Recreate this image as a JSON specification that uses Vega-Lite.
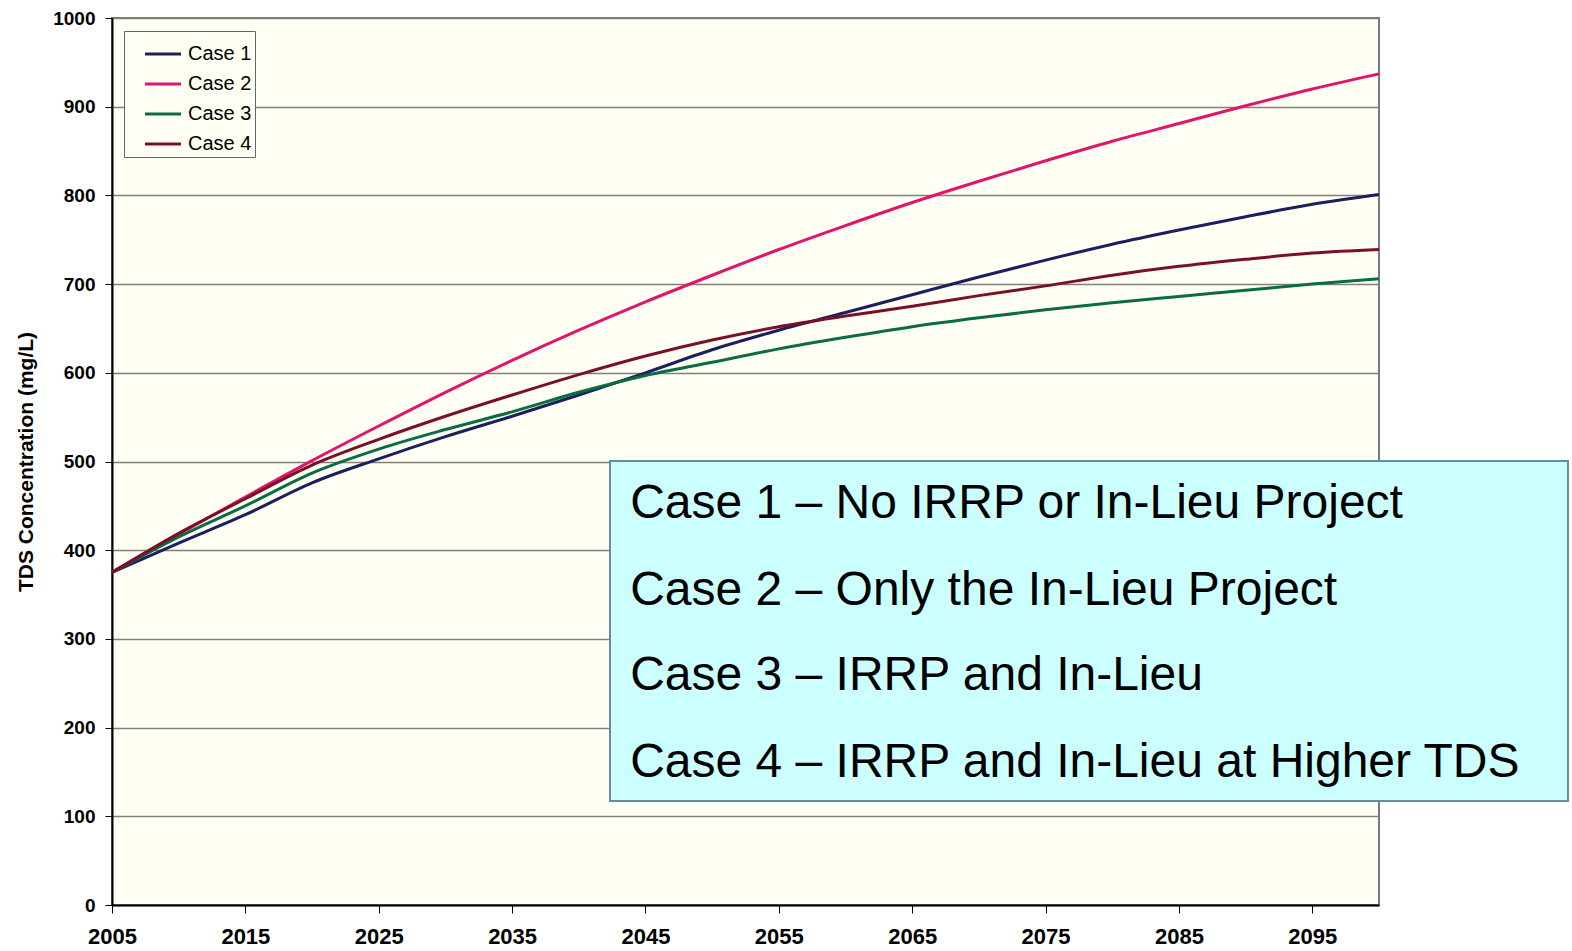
{
  "$schema": "https://vega.github.io/schema/vega-lite/v6.json",
  "width": 1267,
  "height": 887,
  "autosize": {"type": "none"},
  "padding": {"left": 112, "top": 18, "right": 193, "bottom": 46},
  "background": "white",
  "config": {
    "view": {"fill": "#fffff4", "stroke": "#7a7a7a", "strokeWidth": 2},
    "font": "Liberation Sans"
  },
  "datasets": {
    "tds": [
      {"year": 2005, "Case 1": 375, "Case 2": 375, "Case 3": 375, "Case 4": 375},
      {"year": 2010, "Case 1": 408, "Case 2": 418, "Case 3": 415, "Case 4": 419},
      {"year": 2015, "Case 1": 440, "Case 2": 460, "Case 3": 450, "Case 4": 458},
      {"year": 2020, "Case 1": 476, "Case 2": 501, "Case 3": 487, "Case 4": 496},
      {"year": 2025, "Case 1": 503, "Case 2": 540, "Case 3": 514, "Case 4": 525},
      {"year": 2030, "Case 1": 528, "Case 2": 578, "Case 3": 536, "Case 4": 551},
      {"year": 2035, "Case 1": 551, "Case 2": 614, "Case 3": 556, "Case 4": 575},
      {"year": 2040, "Case 1": 575, "Case 2": 648, "Case 3": 578, "Case 4": 598},
      {"year": 2045, "Case 1": 600, "Case 2": 680, "Case 3": 597, "Case 4": 619},
      {"year": 2050, "Case 1": 626, "Case 2": 710, "Case 3": 612, "Case 4": 637},
      {"year": 2055, "Case 1": 648, "Case 2": 739, "Case 3": 627, "Case 4": 652},
      {"year": 2060, "Case 1": 668, "Case 2": 766, "Case 3": 640, "Case 4": 664},
      {"year": 2065, "Case 1": 688, "Case 2": 792, "Case 3": 652, "Case 4": 675},
      {"year": 2070, "Case 1": 708, "Case 2": 816, "Case 3": 662, "Case 4": 687},
      {"year": 2075, "Case 1": 727, "Case 2": 839, "Case 3": 671, "Case 4": 698},
      {"year": 2080, "Case 1": 745, "Case 2": 861, "Case 3": 679, "Case 4": 710},
      {"year": 2085, "Case 1": 761, "Case 2": 881, "Case 3": 686, "Case 4": 720},
      {"year": 2090, "Case 1": 776, "Case 2": 901, "Case 3": 693, "Case 4": 728},
      {"year": 2095, "Case 1": 790, "Case 2": 920, "Case 3": 700, "Case 4": 735},
      {"year": 2100, "Case 1": 801, "Case 2": 937, "Case 3": 706, "Case 4": 739}
    ]
  },
  "layer": [
    {
      "data": {"name": "tds"},
      "transform": [{"fold": ["Case 1", "Case 2", "Case 3", "Case 4"], "as": ["case", "tds"]}],
      "mark": {"type": "line", "interpolate": "monotone", "strokeWidth": 3},
      "encoding": {
        "x": {
          "field": "year", "type": "quantitative",
          "scale": {"domain": [2005, 2100], "nice": false, "zero": false},
          "axis": {
            "title": null, "values": [2005, 2015, 2025, 2035, 2045, 2055, 2065, 2075, 2085, 2095],
            "format": "d", "grid": false, "labelFontSize": 22, "labelFontWeight": "bold",
            "labelColor": "black", "labelPadding": 13, "tickSize": 8, "tickColor": "black",
            "domainColor": "black", "domainWidth": 2, "labelFlush": false, "labelOverlap": false
          }
        },
        "y": {
          "field": "tds", "type": "quantitative",
          "scale": {"domain": [0, 1000], "nice": false},
          "axis": {
            "title": "TDS Concentration (mg/L)", "values": [0, 100, 200, 300, 400, 500, 600, 700, 800, 900, 1000],
            "format": "d", "labelFontSize": 19, "labelFontWeight": "bold", "labelColor": "black",
            "labelPadding": 10, "tickSize": 7, "tickColor": "black", "domainColor": "black",
            "domainWidth": 2, "gridColor": "#808078", "gridWidth": 1.5,
            "titleFontSize": 21, "titleFontWeight": "bold", "titleColor": "black", "titlePadding": 16
          }
        },
        "color": {
          "field": "case", "type": "nominal",
          "scale": {"domain": ["Case 1", "Case 2", "Case 3", "Case 4"], "range": ["#1c1f5e", "#e0156b", "#0a6b45", "#7a1028"]},
          "legend": {
            "orient": "none", "legendX": 12, "legendY": 13, "title": null,
            "labelFontSize": 20, "labelColor": "black", "symbolType": "stroke",
            "symbolStrokeWidth": 3, "symbolSize": 1300, "strokeColor": "#666666",
            "fillColor": "#fffff4", "padding": 3, "rowPadding": 0, "labelOffset": 5,
            "symbolOffset": 16
          }
        }
      }
    },
    {
      "data": {"values": [{}]},
      "mark": {"type": "rect", "fill": "#ccffff", "stroke": "#6a8aa0", "strokeWidth": 2},
      "encoding": {
        "x": {"datum": 2042.34, "type": "quantitative", "title": null},
        "x2": {"datum": 2114.17},
        "y": {"datum": 500.6, "type": "quantitative", "title": null},
        "y2": {"datum": 117.2}
      }
    },
    {
      "data": {"values": [{}]},
      "mark": {"type": "text", "text": "Case 1 – No IRRP or In-Lieu Project", "align": "left", "baseline": "alphabetic", "fontSize": 48, "color": "black"},
      "encoding": {"x": {"datum": 2043.85, "type": "quantitative", "title": null}, "y": {"datum": 436.3, "type": "quantitative", "title": null}}
    },
    {
      "data": {"values": [{}]},
      "mark": {"type": "text", "text": "Case 2 – Only the In-Lieu Project", "align": "left", "baseline": "alphabetic", "fontSize": 48, "color": "black"},
      "encoding": {"x": {"datum": 2043.85, "type": "quantitative", "title": null}, "y": {"datum": 338.2, "type": "quantitative", "title": null}}
    },
    {
      "data": {"values": [{}]},
      "mark": {"type": "text", "text": "Case 3 – IRRP and In-Lieu", "align": "left", "baseline": "alphabetic", "fontSize": 48, "color": "black"},
      "encoding": {"x": {"datum": 2043.85, "type": "quantitative", "title": null}, "y": {"datum": 242.4, "type": "quantitative", "title": null}}
    },
    {
      "data": {"values": [{}]},
      "mark": {"type": "text", "text": "Case 4 – IRRP and In-Lieu at Higher TDS", "align": "left", "baseline": "alphabetic", "fontSize": 48, "color": "black"},
      "encoding": {"x": {"datum": 2043.85, "type": "quantitative", "title": null}, "y": {"datum": 144.3, "type": "quantitative", "title": null}}
    }
  ]
}
